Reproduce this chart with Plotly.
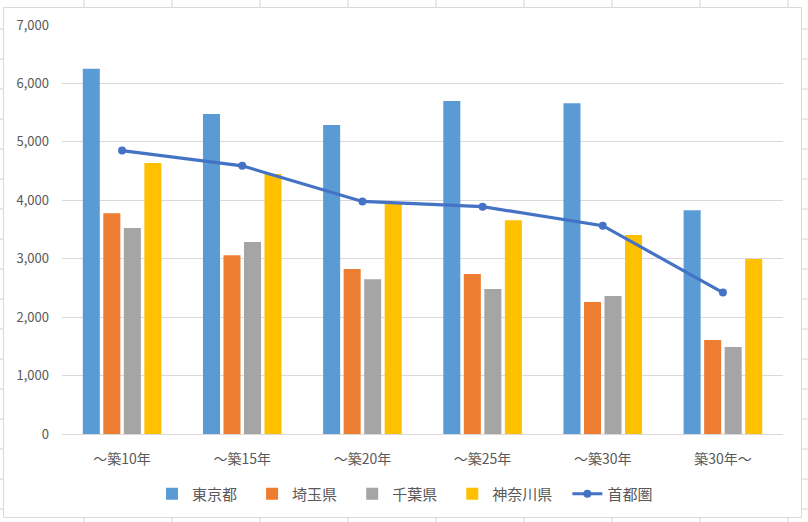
import plotly.graph_objects as go

categories = ["～築10年", "～築15年", "～築20年", "～築25年", "～築30年", "築30年～"]
tokyo = [6250, 5475, 5290, 5700, 5660, 3830]
saitama = [3780, 3060, 2825, 2740, 2260, 1610]
chiba = [3525, 3285, 2650, 2480, 2360, 1490]
kanagawa = [4640, 4450, 3950, 3660, 3405, 2995]
shutoken = [4850, 4590, 3980, 3890, 3565, 2420]
series_names = ["東京都", "埼玉県", "千葉県", "神奈川県", "首都圏"]

W, H = 808, 522
OFF = 0  # body margin removed via post_script
RL, RR, RT, RB = 62, 783, 25, 434  # plot area in screenshot pixels
PW, PH = RR - RL, RB - RT
L, T = RL - OFF, RT - OFF
R, B = W - L - PW, H - T - PH

def px(x):
    return (x - RL) / PW

def py(y):
    return (RB - y) / PH

pad = "\u00a0" * 3
fig = go.Figure()
bar_specs = [(tokyo, "#5B9BD5"), (saitama, "#ED7D31"),
             (chiba, "#A5A5A5"), (kanagawa, "#FFC000")]
for name, (vals, col) in zip(series_names[:4], bar_specs):
    fig.add_trace(go.Bar(x=categories, y=vals, name=name + pad, marker_color=col,
                         marker_line_width=0))
fig.add_trace(go.Scatter(x=categories, y=shutoken, name=series_names[4],
                         mode="lines+markers",
                         line=dict(color="#4472C4", width=3.2),
                         marker=dict(size=8, color="#4472C4")))

shapes = []
gc = "#D4D4D4"
for k in range(10):
    x = 84 + 88 * k - 88
    shapes.append(dict(type="line", xref="paper", yref="paper", x0=px(x), x1=px(x),
                       y0=py(-20), y1=py(H + 20), line=dict(color=gc, width=1), layer="below"))
for k in range(20):
    y = 29 + 30 * k - 30
    shapes.append(dict(type="line", xref="paper", yref="paper", x0=px(-20), x1=px(W + 20),
                       y0=py(y), y1=py(y), line=dict(color=gc, width=1), layer="below"))
shapes.append(dict(type="rect", xref="paper", yref="paper", x0=px(3.5), x1=px(801.5),
                   y0=py(7.5), y1=py(517.5), fillcolor="white",
                   line=dict(color="#D9D9D9", width=1), layer="below"))

fig.update_layout(
    width=W, height=H,
    margin=dict(l=L, r=R, t=T, b=B, autoexpand=False),
    paper_bgcolor="white", plot_bgcolor="rgba(0,0,0,0)",
    font=dict(family="Noto Sans CJK JP", color="#595959", size=13),
    barmode="group", bargap=0.317, bargroupgap=0.17,
    shapes=shapes,
    showlegend=True,
    legend=dict(orientation="h", x=px(405), xanchor="center",
                y=py(494), yanchor="middle", font=dict(size=15)),
    xaxis=dict(showgrid=False, showline=True, linecolor="#D9D9D9", linewidth=1,
               ticks="", tickfont=dict(size=14), ticklabelstandoff=12, tickangle=0),
    yaxis=dict(range=[0, 7000], dtick=1000, tickformat=",", showgrid=True,
               gridcolor="#D9D9D9", gridwidth=1, zeroline=False, showline=False,
               ticks="", tickfont=dict(size=13), ticklabelstandoff=12),
)

fig.write_html("out.html", config={"displayModeBar": False},
               post_script="document.body.style.margin='0';document.body.style.overflow='hidden';")
